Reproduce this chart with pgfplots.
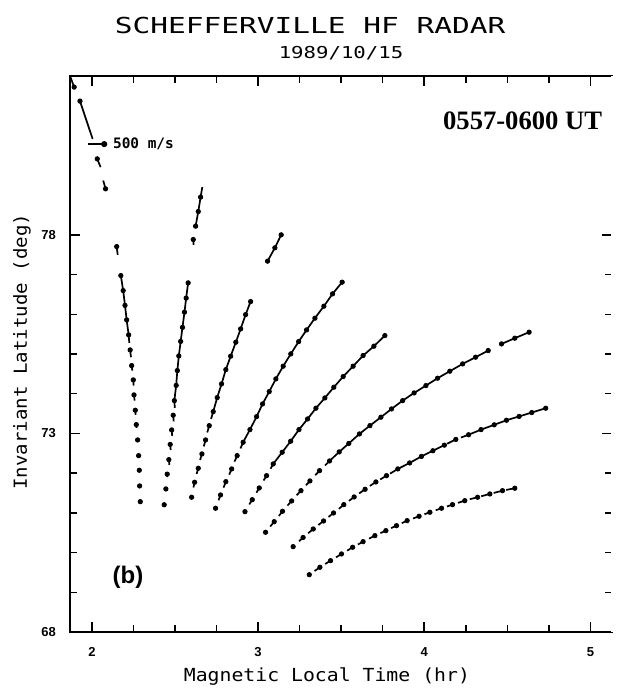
\documentclass[border=0pt]{standalone}
\usepackage{fontspec}
\setmainfont{Liberation Sans}
\newfontfamily\plotfont{DejaVu Sans Mono}
\newfontfamily\timesfont{Liberation Serif}
\usepackage{graphicx}
\usepackage{pgfplots}
\usepackage{pgfplotstable}
\pgfplotsset{compat=1.18}

% gate positions (x y) and end of the velocity vector (ex ey), one table per beam
\pgfplotstableread{
x y ex ey
2.291 71.282 2.291 71.282
2.287 71.678 2.287 71.678
2.285 72.073 2.285 72.073
2.281 72.441 2.281 72.441
2.275 72.836 2.275 72.836
2.267 73.222 2.268 73.139
2.261 73.584 2.263 73.466
2.253 73.970 2.257 73.826
2.249 74.348 2.251 74.204
2.239 74.708 2.243 74.582
2.230 75.103 2.235 74.919
2.221 75.481 2.225 75.280
2.209 75.859 2.221 75.481
2.199 76.224 2.209 75.859
2.188 76.597 2.199 76.224
2.174 76.975 2.188 76.597
2.149 77.705 2.155 77.496
2.082 79.159 2.068 79.368
2.032 79.914 2.052 79.705
1.928 81.368 2.004 80.418
1.893 81.720 1.868 82.005
}\beamA
\pgfplotstableread{
x y ex ey
2.435 71.204 2.435 71.204
2.445 71.602 2.445 71.602
2.453 71.975 2.454 71.900
2.463 72.340 2.466 72.207
2.471 72.723 2.474 72.584
2.480 73.088 2.483 72.937
2.489 73.458 2.492 73.302
2.496 73.826 2.499 73.642
2.507 74.209 2.496 73.826
2.514 74.582 2.507 74.209
2.523 74.952 2.514 74.582
2.534 75.317 2.523 74.952
2.545 75.670 2.534 75.317
2.557 76.053 2.545 75.670
2.567 76.408 2.557 76.053
2.579 76.791 2.567 76.408
2.610 77.882 2.612 77.748
2.624 78.219 2.640 78.587
2.640 78.587 2.654 78.950
2.654 78.950 2.664 79.202
}\beamB
\pgfplotstableread{
x y ex ey
2.600 71.393 2.600 71.393
2.618 71.771 2.611 71.640
2.640 72.123 2.630 71.980
2.662 72.484 2.651 72.332
2.684 72.836 2.673 72.673
2.706 73.196 2.694 73.025
2.730 73.549 2.717 73.365
2.754 73.902 2.730 73.549
2.780 74.247 2.754 73.902
2.806 74.607 2.780 74.247
2.835 74.945 2.806 74.607
2.866 75.297 2.835 74.945
2.895 75.632 2.866 75.297
2.925 75.992 2.895 75.632
2.955 76.320 2.925 75.992
3.057 77.338 3.057 77.338
3.101 77.673 3.057 77.338
3.139 78.000 3.101 77.673
}\beamC
\pgfplotstableread{
x y ex ey
2.744 71.116 2.744 71.116
2.774 71.451 2.762 71.317
2.806 71.786 2.792 71.635
2.841 72.106 2.826 71.962
2.874 72.441 2.858 72.290
2.910 72.778 2.894 72.622
2.951 73.096 2.910 72.778
2.991 73.423 2.951 73.096
3.027 73.743 2.991 73.423
3.067 74.053 3.027 73.743
3.107 74.373 3.067 74.053
3.151 74.693 3.107 74.373
3.197 75.003 3.151 74.693
3.244 75.312 3.197 75.003
3.292 75.607 3.244 75.312
3.342 75.902 3.292 75.607
3.396 76.204 3.342 75.902
3.448 76.514 3.396 76.204
3.506 76.809 3.448 76.514
}\beamD
\pgfplotstableread{
x y ex ey
2.921 71.030 2.921 71.030
2.965 71.332 2.947 71.212
3.007 71.627 2.990 71.509
3.051 71.937 3.033 71.814
3.091 72.232 3.075 72.111
3.145 72.526 3.091 72.232
3.196 72.804 3.145 72.526
3.246 73.096 3.196 72.804
3.298 73.365 3.246 73.096
3.348 73.635 3.298 73.365
3.402 73.894 3.348 73.635
3.456 74.164 3.402 73.894
3.512 74.431 3.456 74.164
3.572 74.693 3.512 74.431
3.632 74.960 3.572 74.693
3.697 75.196 3.632 74.960
3.763 75.464 3.697 75.196
}\beamE
\pgfplotstableread{
x y ex ey
3.045 70.511 3.045 70.511
3.097 70.778 3.073 70.657
3.147 71.040 3.125 70.922
3.202 71.300 3.177 71.184
3.258 71.559 3.232 71.443
3.312 71.804 3.288 71.693
3.370 72.063 3.344 71.947
3.430 72.307 3.403 72.194
3.488 72.534 3.430 72.307
3.546 72.748 3.488 72.534
3.610 72.987 3.546 72.748
3.673 73.196 3.610 72.987
3.739 73.408 3.673 73.196
3.803 73.617 3.739 73.408
3.870 73.826 3.803 73.617
3.939 74.020 3.870 73.826
4.010 74.204 3.939 74.020
4.080 74.390 4.010 74.204
4.154 74.567 4.080 74.390
4.231 74.751 4.154 74.567
4.309 74.919 4.231 74.751
4.385 75.086 4.309 74.919
4.465 75.254 4.465 75.254
4.545 75.398 4.465 75.254
4.631 75.549 4.545 75.398
}\beamF
\pgfplotstableread{
x y ex ey
3.211 70.149 3.211 70.149
3.271 70.380 3.247 70.287
3.332 70.594 3.301 70.486
3.394 70.796 3.363 70.695
3.454 70.997 3.424 70.897
3.516 71.207 3.486 71.101
3.578 71.400 3.547 71.302
3.644 71.594 3.608 71.489
3.709 71.778 3.673 71.678
3.773 71.937 3.735 71.841
3.841 72.106 3.794 71.987
3.912 72.257 3.841 72.106
3.983 72.421 3.912 72.257
4.052 72.564 3.983 72.421
4.121 72.705 4.052 72.564
4.190 72.849 4.138 72.741
4.267 72.967 4.221 72.897
4.342 73.096 4.267 72.967
4.421 73.217 4.342 73.096
4.495 73.332 4.421 73.217
4.571 73.428 4.495 73.332
4.647 73.526 4.571 73.428
4.731 73.635 4.647 73.526
}\beamG
\pgfplotstableread{
x y ex ey
3.308 69.443 3.308 69.443
3.372 69.630 3.340 69.536
3.436 69.796 3.404 69.713
3.502 69.965 3.469 69.879
3.569 70.134 3.536 70.048
3.632 70.275 3.601 70.204
3.703 70.426 3.668 70.350
3.769 70.552 3.736 70.489
3.833 70.678 3.801 70.615
3.897 70.804 3.865 70.741
3.969 70.914 3.933 70.859
4.034 71.015 4.001 70.965
4.104 71.116 4.069 71.065
4.170 71.207 4.137 71.161
4.244 71.307 4.203 71.252
4.321 71.393 4.274 71.343
4.395 71.476 4.343 71.418
4.471 71.559 4.418 71.501
4.545 71.620 4.493 71.577
}\beamH

\pgfplotsset{
  vec/.style={black, line width=0.85pt,
    quiver={u=\thisrow{ex}-\thisrow{x}, v=\thisrow{ey}-\thisrow{y}}},
  gate/.style={only marks, mark=*, mark size=1.1pt, black},
}

\begin{document}
\begin{tikzpicture}
\begin{axis}[
    name=ax,
    scale only axis,
    width=271pt, height=278pt,
    xmin=1.868, xmax=5.13,
    ymin=68, ymax=82,
    xtick={2,3,4,5},
    ytick={68,73,78},
    minor x tick num=3,
    minor y tick num=4,
    tick align=inside,
    major tick length=5pt,
    minor tick length=3.5pt,
    every tick/.style={black, line width=0.75pt},
    axis line style={line width=0.8pt},
    /pgf/number format/assume math mode=true,
    ticklabel style={font=\bfseries\fontsize{6.5}{7}\selectfont},
    xticklabel style={yshift=-4pt},
    yticklabel style={xshift=-3.5pt},
    clip mode=individual,
]
\addplot[vec] table[x=x, y=y] {\beamA};
\addplot[gate] table[x=x, y=y] {\beamA};
\addplot[vec] table[x=x, y=y] {\beamB};
\addplot[gate] table[x=x, y=y] {\beamB};
\addplot[vec] table[x=x, y=y] {\beamC};
\addplot[gate] table[x=x, y=y] {\beamC};
\addplot[vec] table[x=x, y=y] {\beamD};
\addplot[gate] table[x=x, y=y] {\beamD};
\addplot[vec] table[x=x, y=y] {\beamE};
\addplot[gate] table[x=x, y=y] {\beamE};
\addplot[vec] table[x=x, y=y] {\beamF};
\addplot[gate] table[x=x, y=y] {\beamF};
\addplot[vec] table[x=x, y=y] {\beamG};
\addplot[gate] table[x=x, y=y] {\beamG};
\addplot[vec] table[x=x, y=y] {\beamH};
\addplot[gate] table[x=x, y=y] {\beamH};

% reference vector
\addplot[black, line width=0.85pt, mark=*, mark size=1.1pt, mark indices={2}]
  coordinates {(1.978,80.285) (2.074,80.285)};
\node[anchor=west, inner sep=0pt, font=\plotfont\bfseries\fontsize{7.2}{8}\selectfont]
  at (axis cs:2.125,80.285) {500 m/s};

\node[inner sep=0pt, font=\timesfont\bfseries\fontsize{13.3}{15}\selectfont]
  at (rel axis cs:0.835,0.919) {0557-0600 UT};
\node[inner sep=0pt, font=\bfseries\fontsize{12}{14}\selectfont]
  at (rel axis cs:0.107,0.098) {(b)};

\node[font=\plotfont\fontsize{11}{13}\selectfont]
  at (rel axis cs:0.443,1.09) {\scalebox{1.34}[1]{SCHEFFERVILLE HF RADAR}};
\node[font=\plotfont\fontsize{8.2}{10}\selectfont]
  at (rel axis cs:0.5,1.041) {\scalebox{1.26}[1]{1989/10/15}};
\node[font=\plotfont\fontsize{9}{11}\selectfont]
  at (rel axis cs:0.474,-0.081) {\scalebox{1.1}[1]{Magnetic Local Time (hr)}};
\node[font=\plotfont\fontsize{9}{11}\selectfont, rotate=90]
  at (rel axis cs:-0.0886,0.504) {\scalebox{1.06}[1]{Invariant Latitude (deg)}};
\end{axis}
% the right-hand frame line is not drawn in the original, only its ticks
\draw[white, line width=1.2pt] (ax.south east) -- (ax.north east);
\pgfresetboundingbox
\path ([xshift=-35pt,yshift=-29pt]ax.south west) rectangle ([xshift=4pt,yshift=38pt]ax.north east);
\end{tikzpicture}
\end{document}
